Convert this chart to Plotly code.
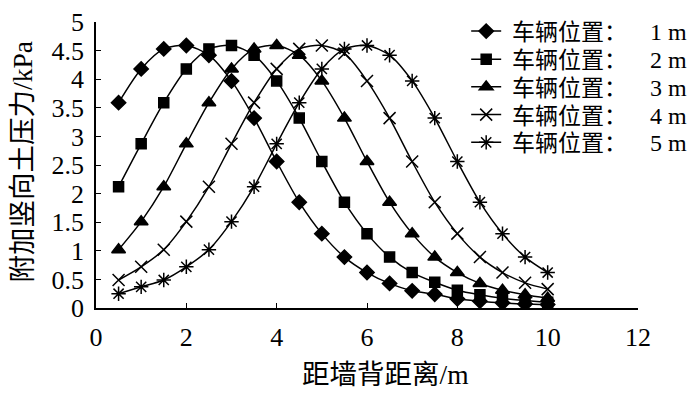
import plotly.graph_objects as go

x_vals = [0.5, 1, 1.5, 2, 2.5, 3, 3.5, 4, 4.5, 5, 5.5, 6, 6.5, 7, 7.5, 8, 8.5, 9, 9.5, 10]

s1 = [3.59, 4.18, 4.53, 4.59, 4.42, 3.97, 3.32, 2.56, 1.85, 1.30, 0.89, 0.62, 0.43, 0.30, 0.24, 0.16, 0.12, 0.09, 0.07, 0.06]
s2 = [2.12, 2.87, 3.59, 4.18, 4.53, 4.59, 4.42, 3.97, 3.32, 2.56, 1.85, 1.30, 0.89, 0.62, 0.45, 0.31, 0.23, 0.17, 0.13, 0.10]
s3 = [1.02, 1.51, 2.12, 2.87, 3.59, 4.18, 4.53, 4.59, 4.42, 3.97, 3.32, 2.56, 1.85, 1.30, 0.89, 0.62, 0.43, 0.31, 0.23, 0.17]
s4 = [0.49, 0.72, 1.02, 1.51, 2.12, 2.87, 3.59, 4.18, 4.53, 4.59, 4.45, 3.97, 3.32, 2.56, 1.85, 1.30, 0.89, 0.62, 0.44, 0.33]
s5 = [0.25, 0.37, 0.49, 0.72, 1.02, 1.51, 2.12, 2.87, 3.59, 4.18, 4.53, 4.59, 4.42, 3.97, 3.32, 2.56, 1.85, 1.30, 0.89, 0.62]

positions = ["1", "2", "3", "4", "5"]
series_names = ["\u00a0车辆位置：\u00a0\u00a0\u00a0\u00a0<span style='font-size:24px'>" + p + "\u00a0m</span>"
                for p in positions]
series_vals = [s1, s2, s3, s4, s5]
symbols = ["diamond", "square", "triangle-up", "x-thin-open", "asterisk-open"]
sizes = [11, 10, 12, 12, 12]

x_ticks = [0, 2, 4, 6, 8, 10, 12]
y_ticks = [0, 0.5, 1, 1.5, 2, 2.5, 3, 3.5, 4, 4.5, 5]
y_tick_text = ["0", "0.5", "1", "1.5", "2", "2.5", "3", "3.5", "4", "4.5", "5"]

x_title = "距墙背距离/m"
y_title = "附加竖向土压力/kPa"

FONT = "'Liberation Serif', 'Noto Sans CJK SC', serif"

legend_ids = ["legend", "legend2", "legend3", "legend4", "legend5"]
legend_y = [0.968, 0.870, 0.773, 0.676, 0.579]

fig = go.Figure()
for name, vals, sym, sz, lg in zip(series_names, series_vals, symbols, sizes, legend_ids):
    fig.add_trace(go.Scatter(
        x=x_vals, y=vals, name=name, mode="lines+markers", legend=lg,
        line=dict(color="black", width=1.5, shape="spline", smoothing=0.8),
        marker=dict(symbol=sym, size=sz, color="black",
                    line=dict(color="black", width=1.5)),
    ))

legend_layout = {}
for lg, ly in zip(legend_ids, legend_y):
    legend_layout[lg] = dict(x=0.683, y=ly, xanchor="left", yanchor="middle",
                             bgcolor="rgba(0,0,0,0)", font=dict(family=FONT, size=23),
                             itemwidth=30, borderwidth=0)

fig.update_layout(
    width=700, height=394,
    paper_bgcolor="white", plot_bgcolor="white",
    margin=dict(l=96, r=61, t=8, b=86),
    font=dict(family=FONT, size=23, color="black"),
    showlegend=True,
    xaxis=dict(range=[0, 12], tickvals=x_ticks, ticks="inside", ticklen=5,
               tickcolor="black", showline=True, linecolor="black", linewidth=1.5,
               showgrid=False, zeroline=False, ticklabeloverflow="allow",
               ticklabelstandoff=5,
               tickfont=dict(family=FONT, size=26)),
    yaxis=dict(range=[0, 5], tickvals=y_ticks, ticktext=y_tick_text,
               ticks="inside", ticklen=5, ticklabeloverflow="allow",
               ticklabelstandoff=5,
               tickcolor="black", showline=True, linecolor="black", linewidth=1.5,
               showgrid=False, zeroline=False,
               tickfont=dict(family=FONT, size=26)),
    annotations=[
        dict(text=x_title, xref="paper", yref="paper", x=0.534, y=-0.233,
             xanchor="center", yanchor="middle", showarrow=False,
             font=dict(family=FONT, size=27.5)),
        dict(text=y_title, xref="paper", yref="paper", x=-0.136, y=0.51,
             xanchor="center", yanchor="middle", showarrow=False, textangle=-90,
             font=dict(family=FONT, size=27.5)),
    ],
    **legend_layout,
)

fig.write_html("out.html", config={"displayModeBar": False},
               post_script="document.body.style.margin='0';document.body.style.overflow='hidden';")
